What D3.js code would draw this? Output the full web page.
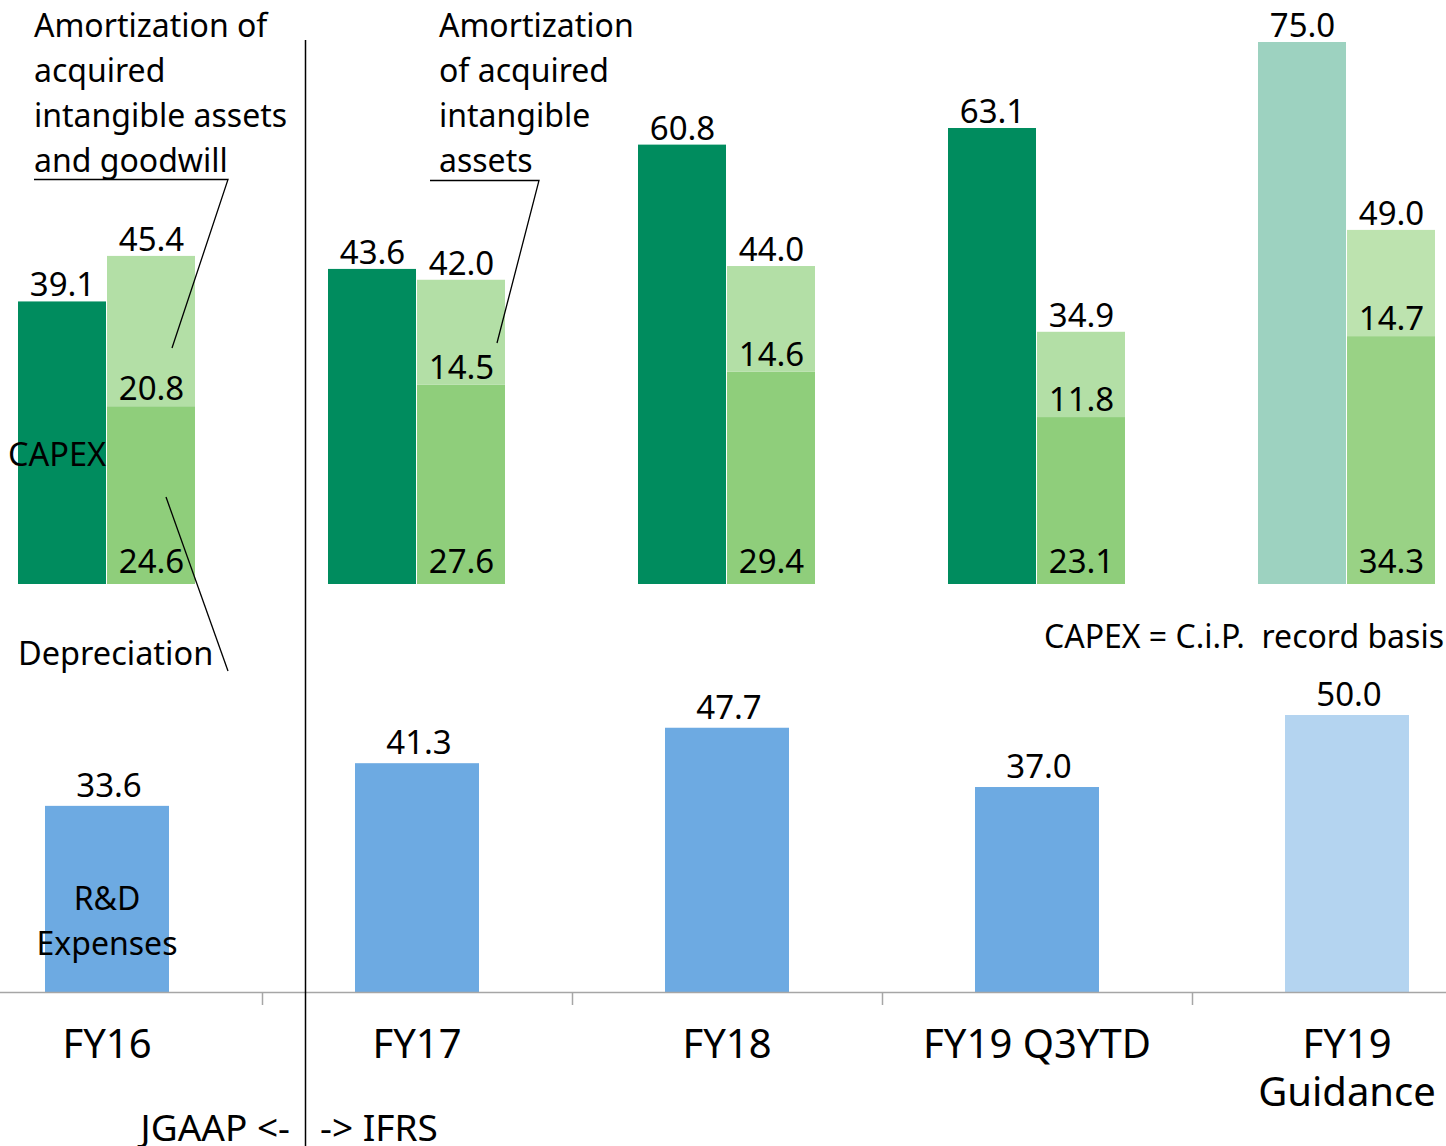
<!DOCTYPE html>
<html>
<head>
  <meta charset="utf-8">
  <title>CAPEX, Depreciation and R&amp;D</title>
  <style>
    body { margin: 0; background: #fff; }
    svg text { font-family: "Noto Sans", "DejaVu Sans", sans-serif; fill: #000; }
  </style>
</head>
<body>
  <svg width="1446" height="1146"></svg>
  <script src="https://cdn.jsdelivr.net/npm/d3@7"></script>
  <script>
  // data
  var categories = ["FY16", "FY17", "FY18", "FY19 Q3YTD", "FY19 Guidance"];
  var capex = [39.1, 43.6, 60.8, 63.1, 75.0];
  var depreciation = [24.6, 27.6, 29.4, 23.1, 34.3];
  var amortization = [20.8, 14.5, 14.6, 11.8, 14.7];
  var depTotal = [45.4, 42.0, 44.0, 34.9, 49.0];
  var rnd = [33.6, 41.3, 47.7, 37.0, 50.0];
  var catLines = [["FY16"], ["FY17"], ["FY18"], ["FY19 Q3YTD"], ["FY19", "Guidance"]];

  var svg = d3.select("svg");

  // scales
  var x = d3.scaleBand().domain(categories).range([-48, 1502]).padding(0);
  var inner = d3.scaleBand().domain(["capex", "dep"]).range([-89, 89]);
  var yTop = d3.scaleLinear().domain([0, 75]).range([584, 42]);
  var yBot = d3.scaleLinear().domain([0, 50]).range([992, 715]);

  function center(c) { return x(c) + x.bandwidth() / 2; }
  function isGuide(i) { return i === categories.length - 1; }

  var rows = categories.map(function(c, i) {
    return { cat: c, i: i, capex: capex[i], dep: depreciation[i], amo: amortization[i], total: depTotal[i], rnd: rnd[i] };
  });

  // CAPEX bars
  svg.selectAll("rect.capex").data(rows).enter().append("rect")
    .attr("class", "capex")
    .attr("x", function(d) { return center(d.cat) + inner("capex"); })
    .attr("width", inner.bandwidth() - 1)
    .attr("y", function(d) { return yTop(d.capex); })
    .attr("height", function(d) { return yTop(0) - yTop(d.capex); })
    .attr("fill", function(d) { return isGuide(d.i) ? "#9dd2c0" : "#008c5e"; });

  // stacked depreciation + amortization
  var stack = d3.stack().keys(["dep", "amo"])(rows);
  var segColors = { dep: ["#8fce7b", "#99d285"], amo: ["#b3dfa6", "#bde3af"] };
  svg.selectAll("g.seg").data(stack).enter().append("g")
    .attr("class", "seg")
    .selectAll("rect").data(function(s) { return s.map(function(p) { p.key = s.key; return p; }); })
    .enter().append("rect")
    .attr("x", function(p) { return center(p.data.cat) + inner("dep"); })
    .attr("width", inner.bandwidth() - 1)
    .attr("y", function(p) { return yTop(p[1]); })
    .attr("height", function(p) { return yTop(p[0]) - yTop(p[1]); })
    .attr("fill", function(p) { return segColors[p.key][isGuide(p.data.i) ? 1 : 0]; });

  // R&D bars
  var rw = x.bandwidth() * 0.4;
  svg.selectAll("rect.rnd").data(rows).enter().append("rect")
    .attr("class", "rnd")
    .attr("x", function(d) { return center(d.cat) - rw / 2; })
    .attr("width", rw)
    .attr("y", function(d) { return yBot(d.rnd); })
    .attr("height", function(d) { return yBot(0) - yBot(d.rnd); })
    .attr("fill", function(d) { return isGuide(d.i) ? "#b4d4f0" : "#6daae2"; });

  // value labels
  var vs = "33px";
  function labels(cls, xf, yf, tf) {
    svg.selectAll("text." + cls).data(rows).enter().append("text")
      .attr("class", cls)
      .attr("x", xf).attr("y", yf)
      .attr("text-anchor", "middle")
      .style("font-size", vs)
      .text(tf);
  }
  var half = inner.bandwidth() / 2;
  labels("lcap", function(d) { return center(d.cat) + inner("capex") + half; },
    function(d) { return yTop(d.capex) - 5; }, function(d) { return d.capex.toFixed(1); });
  labels("ltot", function(d) { return center(d.cat) + inner("dep") + half; },
    function(d) { return yTop(d.total) - 5; }, function(d) { return d.total.toFixed(1); });
  labels("lamo", function(d) { return center(d.cat) + inner("dep") + half; },
    function(d) { return yTop(d.dep) - 6; }, function(d) { return d.amo.toFixed(1); });
  labels("ldep", function(d) { return center(d.cat) + inner("dep") + half; },
    function(d) { return yTop(0) - 11; }, function(d) { return d.dep.toFixed(1); });
  labels("lrnd", function(d) { return center(d.cat) + 2; },
    function(d) { return yBot(d.rnd) - 9; }, function(d) { return d.rnd.toFixed(1); });

  // x axis: baseline and separators between categories
  svg.append("line")
    .attr("x1", x.range()[0]).attr("x2", x.range()[1])
    .attr("y1", yBot(0) + 0.5).attr("y2", yBot(0) + 0.5)
    .attr("stroke", "#a6a6a6").attr("stroke-width", 1.5);
  svg.selectAll("line.sep").data(categories.slice(1)).enter().append("line")
    .attr("class", "sep")
    .attr("x1", function(c) { return x(c) + 0.5; }).attr("x2", function(c) { return x(c) + 0.5; })
    .attr("y1", yBot(0)).attr("y2", yBot(0) + 13)
    .attr("stroke", "#a6a6a6").attr("stroke-width", 1.5);

  // category labels
  var cat = svg.selectAll("text.cat").data(rows).enter().append("text")
    .attr("class", "cat")
    .attr("text-anchor", "middle")
    .style("font-size", "40px");
  cat.selectAll("tspan").data(function(d) { return catLines[d.i].map(function(t) { return { t: t, c: d.cat }; }); })
    .enter().append("tspan")
    .attr("x", function(o) { return center(o.c); })
    .attr("y", function(o, j) { return 1058 + j * 48; })
    .text(function(o) { return o.t; });

  // JGAAP / IFRS divider
  svg.append("line")
    .attr("x1", 305.5).attr("x2", 305.5).attr("y1", 40).attr("y2", 1146)
    .attr("stroke", "#000").attr("stroke-width", 1.5);
  svg.append("text").attr("x", 290).attr("y", 1141).attr("text-anchor", "end")
    .style("font-size", "37px").text("JGAAP <-");
  svg.append("text").attr("x", 320).attr("y", 1141)
    .style("font-size", "37px").text("-> IFRS");

  // annotations
  function block(lines, x0, y0, step, size) {
    var t = svg.append("text").style("font-size", size);
    lines.forEach(function(s, j) {
      t.append("tspan").attr("x", x0).attr("y", y0 + j * step).text(s);
    });
    return t;
  }
  block(["Amortization of", "acquired", "intangible assets", "and goodwill"], 34, 37, 45, "32px");
  block(["Amortization", "of acquired", "intangible", "assets"], 439, 37, 45, "32px");
  block(["CAPEX"], 8, 466, 0, "32.5px");
  block(["Depreciation"], 18, 665, 0, "32.5px");
  svg.append("text").attr("x", 107).attr("y", 910).attr("text-anchor", "middle")
    .style("font-size", "32px").text("R&D");
  svg.append("text").attr("x", 107).attr("y", 955).attr("text-anchor", "middle")
    .style("font-size", "32px").text("Expenses");
  svg.append("text").attr("x", 1444).attr("y", 648).attr("text-anchor", "end")
    .style("font-size", "32px").style("white-space", "pre")
    .text("CAPEX = C.i.P.  record basis");

  // leader lines
  var leaders = [
    [[34, 179.5], [228, 179.5], [172, 348]],
    [[166, 497], [228, 671]],
    [[430, 180.5], [539, 180.5], [497, 343]]
  ];
  svg.selectAll("path.leader").data(leaders).enter().append("path")
    .attr("class", "leader")
    .attr("d", d3.line())
    .attr("fill", "none").attr("stroke", "#000").attr("stroke-width", 1.3);
  </script>
</body>
</html>
